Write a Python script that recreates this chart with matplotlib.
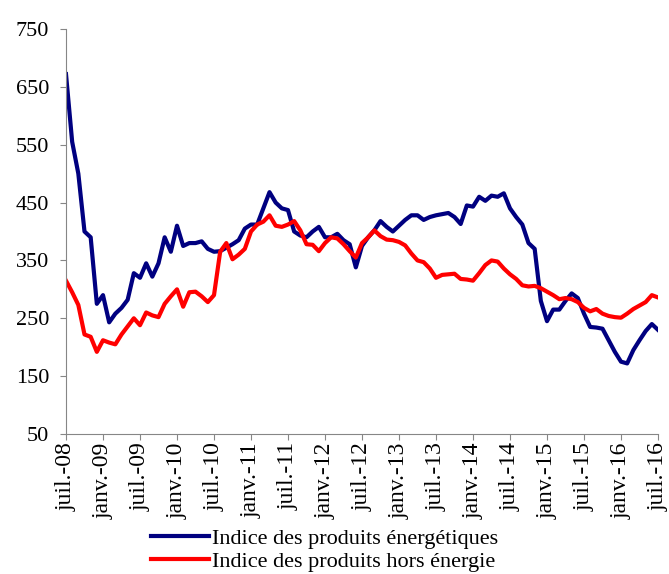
import numpy as np
import matplotlib
matplotlib.use("Agg")
import matplotlib.pyplot as plt

# monthly values, juil.-08 .. juil.-16
energie = [672, 555, 500, 400, 390, 275, 290, 243, 258, 268,
           282, 328, 320, 345, 322, 345, 390, 365, 410, 375,
           380, 380, 383, 370, 365, 366, 372, 378, 385, 405,
           412, 412, 440, 468, 450, 440, 437, 400, 393, 390,
           400, 408, 390, 390, 396, 385, 378, 338, 375, 390,
           402, 418, 408, 400, 410, 420, 428, 428, 420, 425,
           428, 430, 432, 425, 413, 445, 443, 460, 453, 462,
           460, 466, 440, 425, 412, 380, 370, 280, 245, 265,
           265, 280, 293, 285, 258, 235, 234, 232, 212, 192,
           175, 172, 195, 212, 228, 240, 230]
hors_energie = [315, 295, 273, 222, 218, 192, 212, 208, 205, 222,
                236, 250, 238, 260, 255, 252, 275, 288, 300, 270,
                295, 296, 288, 278, 290, 365, 380, 352, 360, 370,
                400, 412, 417, 428, 410, 408, 412, 418, 402, 378,
                377, 366, 380, 390, 388, 378, 366, 355, 380, 390,
                402, 392, 386, 385, 382, 376, 362, 350, 347, 336,
                320, 325, 326, 327, 318, 317, 315, 328, 342, 350,
                348, 336, 326, 318, 307, 305, 306, 302, 296, 290,
                283, 285, 283, 278, 268, 262, 266, 258, 254, 252,
                251, 258, 266, 272, 278, 290, 286]
tick_labels = ["juil.-08", "janv.-09", "juil.-09", "janv.-10", "juil.-10",
               "janv.-11", "juil.-11", "janv.-12", "juil.-12", "janv.-13",
               "juil.-13", "janv.-14", "juil.-14", "janv.-15", "juil.-15",
               "janv.-16", "juil.-16"]
noms = ["Indice des produits énergétiques", "Indice des produits hors énergie"]

plt.rcParams['font.family'] = ['Liberation Serif', 'DejaVu Serif']

mois = np.arange(len(energie))

fig = plt.figure(figsize=(6.69, 5.74), dpi=100)
ax = fig.add_axes([66/669, 1-434/574, (658-66)/669, (434-29)/574])

ax.plot(mois, energie, color="#000080", lw=3, label=noms[0], solid_joinstyle="round")
ax.plot(mois, hors_energie, color="#FF0000", lw=3, label=noms[1], solid_joinstyle="round")

ax.set_xlim(0, len(energie)-1)
ax.set_ylim(50, 750)
ax.set_yticks(np.arange(50, 751, 100))
ax.set_xticks(np.arange(0, len(energie), 6))
ax.set_xticklabels(tick_labels, rotation=90, fontsize=17)

for s in ["top", "right"]:
    ax.spines[s].set_visible(False)
for s in ["left", "bottom"]:
    ax.spines[s].set_color("#868686")
ax.tick_params(axis="both", colors="#868686", labelcolor="black", length=4)
ax.tick_params(axis="y", pad=8, labelsize=16)
ax.tick_params(axis="x", pad=2)

fig.legend(loc="upper left", bbox_to_anchor=(140/669, 1-517/574), frameon=False,
           fontsize=16, handlelength=2.6, handletextpad=0.15, labelspacing=0.12,
           borderpad=0)

fig.savefig("out.png", dpi=100)
